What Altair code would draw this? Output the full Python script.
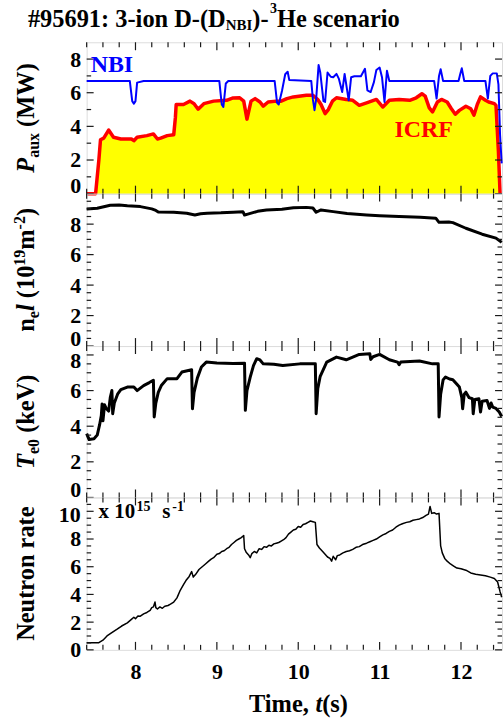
import altair as alt
import pandas as pd

# ---------------- data ----------------
nbi_t = [7.40, 7.93, 7.96, 7.98, 8.00, 8.02, 8.10, 9.03, 9.06, 9.08, 9.11, 9.14, 9.71, 9.74, 9.76,
         9.80, 9.84, 9.87, 9.89, 10.16, 10.18, 10.20, 10.22, 10.25, 10.27, 10.31, 10.33, 10.36,
         10.40, 10.43, 10.47, 10.50, 10.54, 10.57, 10.62, 10.65, 10.69, 10.77, 10.82, 10.85, 10.89,
         10.93, 10.96, 11.00, 11.03, 11.06, 11.09, 11.12, 11.67, 11.70, 11.73, 11.75, 11.78, 11.97,
         11.99, 12.01, 12.04, 12.30, 12.33, 12.36, 12.39, 12.44, 12.46, 12.48, 12.50]
nbi_v = [6.70, 6.70, 5.50, 5.35, 5.50, 6.60, 6.70, 6.70, 5.30, 5.15, 6.55, 6.70, 6.70, 5.40, 5.30,
         6.10, 7.10, 7.25, 6.75, 6.70, 5.60, 4.96, 5.60, 7.65, 7.22, 5.50, 5.45, 7.20,
         6.95, 6.92, 7.12, 6.82, 6.04, 7.12, 5.55, 6.92, 6.98, 6.98, 7.42, 6.14, 6.04,
         6.63, 7.35, 7.50, 6.90, 5.45, 7.30, 6.69, 6.70, 5.65, 7.00, 7.40, 6.70, 6.70,
         7.10, 7.45, 6.70, 6.70, 5.65, 7.00, 7.15, 7.15, 6.50, 3.50, 1.80]

icrf_t = [7.40, 7.51, 7.55, 7.57, 7.61, 7.67, 7.73, 7.82, 7.95, 7.98, 8.02, 8.14, 8.22, 8.27, 8.31,
          8.39, 8.47, 8.49, 8.50, 8.59, 8.67, 8.72, 8.77, 8.84, 8.96, 9.12, 9.20, 9.28, 9.33, 9.37,
          9.42, 9.47, 9.53, 9.57, 9.63, 9.73, 9.79, 9.86, 9.94, 10.10, 10.18, 10.24, 10.28, 10.33,
          10.37, 10.42, 10.47, 10.59, 10.67, 10.71, 10.75, 10.84, 10.96, 11.04, 11.12, 11.24, 11.37,
          11.45, 11.52, 11.56, 11.61, 11.65, 11.71, 11.76, 11.83, 11.88, 11.93, 11.98, 12.06, 12.12,
          12.16, 12.20, 12.24, 12.30, 12.34, 12.41, 12.43, 12.46, 12.48]
icrf_v = [0.0, 0.0, 2.0, 3.2, 3.3, 3.78, 3.35, 3.25, 3.25, 3.15, 3.35, 3.45, 3.55, 3.25, 3.3,
          3.45, 3.5, 4.5, 5.3, 5.3, 5.5, 5.35, 5.02, 5.35, 5.5, 5.55, 5.69, 5.7, 5.5, 4.43,
          5.5, 5.65, 5.45, 5.2, 5.45, 5.5, 5.5, 5.65, 5.75, 5.85, 5.85, 5.6, 5.3, 4.76,
          5.0, 5.5, 5.7, 5.6, 5.55, 5.4, 5.25, 5.4, 5.6, 5.15, 5.55, 5.6, 5.55,
          5.7, 5.94, 5.8, 5.1, 4.86, 5.45, 5.6, 5.45, 5.06, 4.72, 4.95, 5.2, 5.05,
          4.67, 5.3, 5.75, 5.55, 5.45, 5.35, 5.25, 2.5, 0.0]

ne_t = [7.40, 7.53, 7.69, 7.80, 7.90, 8.06, 8.20, 8.25, 8.28, 8.47, 8.63, 8.73, 8.80, 8.88, 9.05,
        9.20, 9.32, 9.34, 9.38, 9.50, 9.61, 9.80, 9.94, 10.10, 10.18, 10.22, 10.28, 10.43, 10.60,
        10.84, 11.00, 11.24, 11.50, 11.69, 11.73, 11.85, 11.90, 12.06, 12.26, 12.43, 12.50]
ne_v = [9.00, 9.04, 9.24, 9.25, 9.20, 9.15, 9.00, 8.90, 8.80, 8.78, 8.71, 8.60, 8.68, 8.72, 8.74,
        8.78, 8.82, 8.60, 8.66, 8.84, 8.93, 8.98, 9.08, 9.10, 9.06, 8.78, 8.93, 8.82, 8.70,
        8.60, 8.55, 8.50, 8.45, 8.39, 8.12, 8.14, 8.10, 7.73, 7.34, 7.08, 6.80]

te_t = [7.40, 7.43, 7.49, 7.53, 7.56, 7.58, 7.59, 7.60, 7.62, 7.64, 7.67, 7.69, 7.71, 7.72, 7.74,
        7.78, 7.82, 7.90, 7.98, 8.02, 8.10, 8.17, 8.22, 8.23, 8.25, 8.28, 8.32, 8.39, 8.51, 8.57,
        8.69, 8.70, 8.72, 8.76, 8.81, 8.87, 9.00, 9.20, 9.34, 9.35, 9.37, 9.41, 9.45, 9.49, 9.53,
        9.57, 9.70, 9.81, 10.02, 10.21, 10.22, 10.24, 10.27, 10.35, 10.47, 10.59, 10.75, 10.88,
        10.89, 10.92, 11.00, 11.12, 11.22, 11.24, 11.26, 11.49, 11.65, 11.72, 11.73, 11.75, 11.78,
        11.81, 11.86, 11.90, 11.95, 11.98, 12.01, 12.02, 12.04, 12.06, 12.10, 12.14, 12.15, 12.17,
        12.22, 12.24, 12.26, 12.32, 12.35, 12.37, 12.39, 12.43, 12.47, 12.50]
te_v = [3.58, 3.25, 3.30, 3.50, 4.10, 4.60, 5.25, 4.30, 5.20, 5.00, 4.85, 5.60, 6.00, 4.70, 5.30,
        5.80, 6.05, 6.20, 6.20, 6.00, 6.28, 6.45, 6.58, 4.52, 5.30, 5.90, 6.30, 6.67, 6.67, 7.04,
        7.17, 4.98, 5.90, 6.70, 7.32, 7.60, 7.55, 7.52, 7.54, 4.89, 6.00, 6.76, 7.40, 7.79, 7.72,
        7.50, 7.48, 7.41, 7.50, 7.50, 4.70, 6.10, 6.80, 7.60, 7.88, 7.73, 8.03, 8.07,
        7.75, 7.90, 8.03, 7.73, 7.60, 7.45, 7.60, 7.66, 7.50, 7.50, 4.52, 5.80, 6.60,
        6.76, 6.65, 6.61, 6.35, 6.20, 5.60, 4.98, 5.80, 5.91, 5.60, 5.54, 4.70, 5.50,
        5.54, 4.80, 5.40, 5.44, 5.00, 5.30, 5.07, 5.00, 4.80, 4.55]

rn_t = [7.40, 7.55, 7.60, 7.65, 7.70, 7.77, 7.83, 7.90, 7.95, 7.98, 8.00, 8.03, 8.06, 8.10, 8.14,
        8.18, 8.20, 8.22, 8.24, 8.25, 8.27, 8.30, 8.33, 8.36, 8.40, 8.43, 8.47, 8.51, 8.55, 8.59,
        8.62, 8.66, 8.69, 8.71, 8.74, 8.78, 8.82, 8.86, 8.90, 8.93, 8.96, 9.00, 9.03, 9.06, 9.09,
        9.12, 9.15, 9.18, 9.21, 9.24, 9.27, 9.30, 9.33, 9.34, 9.36, 9.39, 9.41, 9.43, 9.46, 9.49,
        9.52, 9.55, 9.58, 9.61, 9.64, 9.67, 9.70, 9.73, 9.76, 9.79, 9.82, 9.85, 9.88, 9.91, 9.94,
        9.97, 10.00, 10.03, 10.06, 10.09, 10.12, 10.15, 10.18, 10.21, 10.23, 10.26, 10.30, 10.33,
        10.36, 10.39, 10.41, 10.43, 10.46, 10.48, 10.51, 10.55, 10.59, 10.63, 10.67, 10.71, 10.75,
        10.79, 10.84, 10.88, 10.92, 10.96, 11.00, 11.04, 11.08, 11.12, 11.16, 11.20, 11.24, 11.28,
        11.33, 11.37, 11.41, 11.45, 11.49, 11.53, 11.57, 11.60, 11.62, 11.64, 11.67, 11.70, 11.73,
        11.75, 11.77, 11.80, 11.83, 11.87, 11.91, 11.95, 12.00, 12.06, 12.12, 12.18, 12.24, 12.30,
        12.36, 12.41, 12.45, 12.48, 12.50]
rn_v = [0.52, 0.52, 0.70, 1.00, 1.20, 1.47, 1.72, 1.95, 2.20, 2.35, 2.25, 2.45, 2.43, 2.60, 2.70,
        2.85, 3.05, 3.10, 3.45, 3.05, 2.95, 3.10, 3.00, 3.15, 3.20, 3.30, 3.45, 3.75, 4.30, 4.70,
        5.00, 5.30, 5.65, 5.25, 5.45, 5.80, 6.00, 6.20, 6.40, 6.55, 6.65, 6.90, 6.95, 7.10, 7.15,
        7.30, 7.40, 7.60, 7.75, 7.90, 8.00, 8.10, 8.25, 7.30, 7.05, 6.85, 6.65, 6.95, 7.10, 7.00,
        7.30, 7.25, 7.45, 7.40, 7.55, 7.50, 7.65, 7.70, 7.75, 7.85, 7.95, 8.10, 8.35, 8.50, 8.65,
        8.70, 8.90, 8.85, 9.05, 9.10, 9.20, 9.30, 9.25, 9.20, 7.60, 7.35, 7.10, 6.90,
        6.70, 6.60, 6.40, 6.75, 6.50, 6.80, 6.85, 7.00, 7.10, 7.15, 7.25, 7.40, 7.45,
        7.60, 7.70, 7.80, 7.90, 8.00, 8.15, 8.30, 8.40, 8.55, 8.65, 8.85, 9.00, 9.10,
        9.20, 9.25, 9.35, 9.40, 9.45, 9.55, 9.70, 9.80, 10.35, 9.85, 9.90, 9.80, 9.85,
        7.50, 7.00, 6.60, 6.40, 6.20, 6.05, 5.90, 5.85, 5.75, 5.55, 5.45, 5.40, 5.35,
        5.25, 5.15, 4.90, 4.20, 3.80]

x_major = [8, 9, 10, 11, 12]
x_minor = [7.4, 7.6, 7.8, 8.2, 8.4, 8.6, 8.8, 9.2, 9.4, 9.6, 9.8, 10.2, 10.4, 10.6, 10.8,
           11.2, 11.4, 11.6, 11.8, 12.2, 12.4]

# ---------------- style ----------------
X_MIN, X_MAX = 7.4, 12.504
W = 417
H = [152, 153, 152, 153]
FONT = "Liberation Serif"
INK = "#1a1a1a"
F_MAIN = 24.5
F_SUB = 16

xs = alt.Scale(domain=[X_MIN, X_MAX], nice=False, zero=False)


def one():
    return pd.DataFrame({"d": [0]})


def txt(text, x, y, size, color="black", italic=False, angle=None, align="left"):
    kw = dict(text=text, font=FONT, fontSize=size, fontWeight="bold", color=color,
              align=align, baseline="alphabetic")
    if italic:
        kw["fontStyle"] = "italic"
    if angle is not None:
        kw["angle"] = angle
    return alt.Chart(one()).mark_text(**kw).encode(x=alt.value(x), y=alt.value(y))


def yaxis(values, flush):
    kw = dict(values=values, title=None, ticks=False, tickSize=0, domain=False, grid=False,
              labelFont=FONT, labelFontSize=22, labelFontWeight="bold", labelColor="black",
              labelPadding=6)
    if flush:
        kw["labelFlush"] = flush
        kw["labelFlushOffset"] = 4
    else:
        kw["labelFlush"] = False
    return alt.Axis(**kw)


def tick_layers(h, ys, yax, xax, y_major, y_minor):
    layers = []
    for vals, L in ((x_major, 8), (x_minor, 5)):
        base = alt.Chart(pd.DataFrame({"tx": vals})).mark_rule(color=INK, strokeWidth=1.2)
        xe = alt.X("tx:Q", scale=xs, axis=xax)
        layers.append(base.encode(x=xe, y=alt.value(h), y2=alt.value(h - L)))
        layers.append(base.encode(x=xe, y=alt.value(0), y2=alt.value(L)))
    for vals, L in ((y_major, 7), (y_minor, 4.5)):
        base = alt.Chart(pd.DataFrame({"ty": vals})).mark_rule(color=INK, strokeWidth=1.2)
        ye = alt.Y("ty:Q", scale=ys, axis=yax)
        layers.append(base.encode(y=ye, x=alt.value(0), x2=alt.value(L)))
        layers.append(base.encode(y=ye, x=alt.value(W), x2=alt.value(W - L)))
    return layers


def halves(start, step, stop, skip_every):
    out = []
    v = start
    while v < stop - 1e-9:
        if abs((v / skip_every) - round(v / skip_every)) > 1e-9:
            out.append(round(v, 2))
        v += step
    return out


def ytitle(pieces, h):
    total = sum(p[4] + p[5] for p in pieces)
    y = h / 2 + total / 2
    layers = []
    for text, size, italic, shift, adv, gap in pieces:
        y -= gap
        layers.append(txt(text, -53 + shift, y, size, italic=italic, angle=270))
        y -= adv
    return layers


def em(s, size, table):
    return sum(table.get(c, 500) for c in s) / 1000.0 * size


TB = {" ": 250, "(": 333, ")": 333, "M": 944, "W": 1000, "a": 500, "u": 556, "x": 500,
      "e": 444, "l": 278, "m": 833, "-": 333, "k": 556, "V": 722, "N": 722, "t": 333,
      "r": 444, "o": 500, "n": 556, "s": 389, "#": 500, ":": 333, "i": 278, "D": 722,
      "B": 667, "I": 389, "H": 778, "c": 444, "T": 667, ",": 250}
TBI = {"P": 611, "l": 278, "T": 611, "t": 278}

xnone = None
ax_bottom = alt.Axis(values=x_major, format="d", title=None, ticks=False, tickSize=0, domain=False,
                     grid=False, labelFont=FONT, labelFontSize=22, labelFontWeight="bold",
                     labelColor="black", labelPadding=12, labelFlush=False)

# ---------------- panel 1 : P_aux ----------------
ys1 = alt.Scale(domain=[0, 9], nice=False, zero=False)
ya1 = yaxis([0, 2, 4, 6, 8], 3)
d_icrf = pd.DataFrame({"t": icrf_t, "icrf": icrf_v})
d_nbi = pd.DataFrame({"t": nbi_t, "nbi": nbi_v})
p1_layers = [
    alt.Chart(d_icrf).mark_area(color="#ffff00").encode(
        x=alt.X("t:Q", scale=xs, axis=xnone), y=alt.Y("icrf:Q", scale=ys1, axis=ya1)),
    alt.Chart(d_icrf).mark_line(color="#ff0000", strokeWidth=3.5, strokeJoin="round").encode(
        x=alt.X("t:Q", scale=xs, axis=xnone), y=alt.Y("icrf:Q", scale=ys1, axis=ya1)),
    alt.Chart(d_nbi).mark_line(color="#0000ff", strokeWidth=2, strokeJoin="round").encode(
        x=alt.X("t:Q", scale=xs, axis=xnone), y=alt.Y("nbi:Q", scale=ys1, axis=ya1)),
]
p1_layers += tick_layers(H[0], ys1, ya1, xnone, [0, 2, 4, 6, 8], [1, 3, 5, 7])
p1_layers += [txt("NBI", 4, 30, 24, color="#0000ff"), txt("ICRF", 309, 95, 24, color="#ff0000")]
p1_layers += ytitle([
    ("P", F_MAIN, True, 0, em("P", F_MAIN, TBI), 0),
    ("aux", F_SUB, False, 5, em("aux", F_SUB, TB), 0),
    ("(MW)", F_MAIN, False, 0, em("(MW)", F_MAIN, TB), em(" ", F_MAIN, TB)),
], H[0])
# chart title (pieces for subscript / superscript)
t_main = "#95691: 3-ion D-(D"
x0 = -59
p1_layers.append(txt(t_main, x0, -15, F_MAIN))
x0 += em(t_main, F_MAIN, TB)
p1_layers.append(txt("NBI", x0, -12.5, 15))
x0 += em("NBI", 15, TB)
p1_layers.append(txt(")-", x0, -15, F_MAIN))
x0 += em(")-", F_MAIN, TB) + 1.5
p1_layers.append(txt("3", x0, -29, 14))
x0 += em("3", 14, TB)
p1_layers.append(txt("He scenario", x0, -15, F_MAIN))
# invisible anchor fixing the page origin
p1_layers.append(alt.Chart(one()).mark_rule(opacity=0, color="white").encode(
    x=alt.value(-86), x2=alt.value(-86), y=alt.value(-40), y2=alt.value(-38)))
p1 = alt.layer(*p1_layers).properties(width=W, height=H[0])

# ---------------- panel 2 : n_e l ----------------
ys2 = alt.Scale(domain=[0, 10], nice=False, zero=False)
ya2 = yaxis([0, 2, 4, 6, 8], 3)
d_ne = pd.DataFrame({"t": ne_t, "ne": ne_v})
p2_layers = [alt.Chart(d_ne).mark_line(color="black", strokeWidth=3, strokeJoin="round").encode(
    x=alt.X("t:Q", scale=xs, axis=xnone), y=alt.Y("ne:Q", scale=ys2, axis=ya2))]
p2_layers += tick_layers(H[1], ys2, ya2, xnone, [0, 2, 4, 6, 8], halves(0.5, 0.5, 10, 2))
p2_layers += ytitle([
    ("n", F_MAIN, False, 0, em("n", F_MAIN, TB), 0),
    ("e", F_SUB, False, 5, em("e", F_SUB, TB), 0),
    ("l", F_MAIN, True, 0, em("l", F_MAIN, TBI), 0),
    ("(10", F_MAIN, False, 0, em("(10", F_MAIN, TB), em(" ", F_MAIN, TB)),
    ("19", F_SUB, False, -9, em("19", F_SUB, TB), 0),
    ("m", F_MAIN, False, 0, em("m", F_MAIN, TB), 0),
    ("-2", F_SUB, False, -9, em("-2", F_SUB, TB), 0),
    (")", F_MAIN, False, 0, em(")", F_MAIN, TB), 0),
], H[1])
p2 = alt.layer(*p2_layers).properties(width=W, height=H[1])

# ---------------- panel 3 : T_e0 ----------------
ys3 = alt.Scale(domain=[0, 8.5], nice=False, zero=False)
ya3 = yaxis([0, 2, 4, 6, 8], 10)
d_te = pd.DataFrame({"t": te_t, "te": te_v})
p3_layers = [alt.Chart(d_te).mark_line(color="black", strokeWidth=3, strokeJoin="round").encode(
    x=alt.X("t:Q", scale=xs, axis=xnone), y=alt.Y("te:Q", scale=ys3, axis=ya3))]
p3_layers += tick_layers(H[2], ys3, ya3, xnone, [0, 2, 4, 6, 8], halves(0.5, 0.5, 8.5, 2))
p3_layers += ytitle([
    ("T", F_MAIN, True, 0, em("T", F_MAIN, TBI), 0),
    ("e0", F_SUB, False, 5, em("e0", F_SUB, TB), 0),
    ("(keV)", F_MAIN, False, 0, em("(keV)", F_MAIN, TB), em(" ", F_MAIN, TB)),
], H[2])
p3 = alt.layer(*p3_layers).properties(width=W, height=H[2])

# ---------------- panel 4 : neutron rate ----------------
ys4 = alt.Scale(domain=[0, 11], nice=False, zero=False)
ya4 = yaxis([0, 2, 4, 6, 8], None)
d_rn = pd.DataFrame({"t": rn_t, "rn": rn_v})
top_lab = pd.DataFrame({"v": [10], "lab": ["10"]})
p4_layers = [alt.Chart(d_rn).mark_line(color="black", strokeWidth=1.5, strokeJoin="round").encode(
    x=alt.X("t:Q", scale=xs, axis=ax_bottom), y=alt.Y("rn:Q", scale=ys4, axis=ya4))]
p4_layers += tick_layers(H[3], ys4, ya4, ax_bottom, [0, 2, 4, 6, 8, 10], halves(0.5, 0.5, 11, 2))
p4_layers.append(alt.Chart(top_lab).mark_text(
    font=FONT, fontSize=22, fontWeight="bold", color="black", align="right",
    baseline="middle", dy=4).encode(
    y=alt.Y("v:Q", scale=ys4, axis=ya4), x=alt.value(-6), text="lab:N"))
p4_layers += [
    txt("x 10", 12, 21, 21), txt("15", 50, 14, 14),
    txt("s", 76, 21, 21), txt("-1", 86, 14, 14),
    txt("Neutron rate", -53, H[3] / 2, F_MAIN, angle=270, align="center"),
]
xt = 163
p4_layers.append(txt("Time,", xt, 215, F_MAIN))
xt += em("Time, ", F_MAIN, TB)
p4_layers.append(txt("t", xt, 215, F_MAIN, italic=True))
xt += em("t", F_MAIN, TBI)
p4_layers.append(txt("(s)", xt, 215, F_MAIN))
p4 = alt.layer(*p4_layers).properties(width=W, height=H[3])

chart = alt.vconcat(p1, p2, p3, p4, spacing=0, bounds="flush").resolve_scale(
    y="independent").properties(padding=0).configure_view(
    stroke=INK, strokeWidth=1.5).configure(background="white")

chart.save("out.html", embed_options={"renderer": "svg", "actions": False})
